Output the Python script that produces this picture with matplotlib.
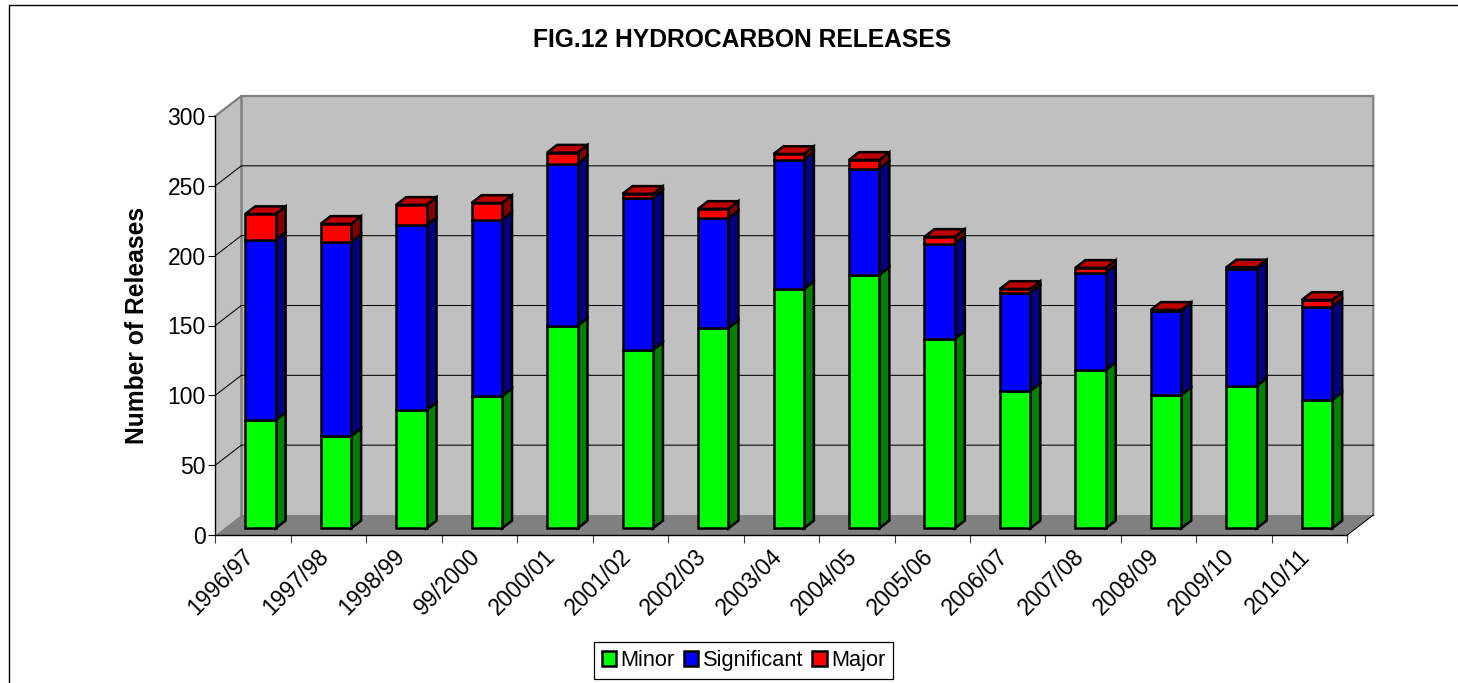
import numpy as np
import matplotlib
matplotlib.use("Agg")
import matplotlib.pyplot as plt
from matplotlib.lines import Line2D
from matplotlib.transforms import ScaledTranslation

plt.rcParams['font.family'] = ['Liberation Sans', 'DejaVu Sans']

years = ['1996/97', '1997/98', '1998/99', '99/2000', '2000/01', '2001/02', '2002/03', '2003/04',
         '2004/05', '2005/06', '2006/07', '2007/08', '2008/09', '2009/10', '2010/11']
minor = [77.6, 66, 84.7, 94.8, 145, 127.7, 143.5, 171.4, 181.5, 135.6, 98.4, 113.4, 95.5, 102, 92]
significant = [128.9, 139, 132.3, 126.2, 116, 108.9, 78.5, 92.6, 75.9, 68.1, 70.1, 69.6, 60.2, 83.6, 66.6]
major = [18.5, 13, 14.6, 12, 8, 2.9, 6.7, 4, 6.4, 5, 2.9, 3.5, 0.7, 1.2, 4.9]

W, H = 1458, 683
fig = plt.figure(figsize=(W/100, H/100), dpi=100)
L, R, T, B = 215.3, 1347.3, 116, 535
ax = fig.add_axes([L/W, 1-B/H, (R-L)/W, (B-T)/H])
ax.set_xlim(0, 15)
ax.set_ylim(0, 300)
px = (R-L)/15
py = (B-T)/300

# depth of the box and of the bars
DX, DY = 26/px, 20/py
off_x, off_y = 7.4/px, 6.7/py
bw, bdx, bdy = 30.4/px, 10/px, 7.7/py

WALL, FLOOR, EDGE = '#C0C0C0', '#808080', '#808080'
ax.fill([0, DX, DX, 0], [0, DY, 300+DY, 300], color=WALL, lw=0, clip_on=False, zorder=1)
ax.fill([DX, 15+DX, 15+DX, DX], [DY, DY, 300+DY, 300+DY], color=WALL, lw=0, clip_on=False, zorder=1)
ax.fill([0, DX, 15+DX, 15], [0, DY, DY, 0], color=FLOOR, lw=0, clip_on=False, zorder=1.1)
ax.plot([0, DX, 15+DX, 15+DX], [300, 300+DY, 300+DY, DY], color=EDGE, lw=1.6, clip_on=False, zorder=1.2,
        solid_joinstyle='miter')
ax.plot([DX, DX], [DY, 300+DY], color=EDGE, lw=1.8, clip_on=False, zorder=1.2)
for v in range(50, 300, 50):
    ax.plot([0, DX, 15+DX], [v, v+DY, v+DY], color='black', lw=0.75, clip_on=False, zorder=1.5)
ax.plot([15, 15+DX], [0, DY], color='black', lw=0.75, clip_on=False, zorder=1.5)

series = [('Minor', minor, '#00FF00', '#008000'),
          ('Significant', significant, '#0000FF', '#000080'),
          ('Major', major, '#FF0000', '#800000')]
centers = np.arange(15) + 0.5 + off_x
bottom = np.zeros(15) + off_y
handles = []
EW = 1.8
for k, (name, vals, col, dark) in enumerate(series):
    vals = np.array(vals, dtype=float)
    x1 = centers + bw/2
    x0 = centers - bw/2
    top = bottom + vals
    for i in range(15):
        ax.fill([x1[i], x1[i]+bdx, x1[i]+bdx, x1[i]],
                [bottom[i], bottom[i]+bdy, top[i]+bdy, top[i]],
                facecolor=dark, edgecolor='black', lw=EW, clip_on=False, zorder=3+k*0.1,
                joinstyle='miter')
        if k == 2:
            ax.fill([x0[i], x1[i], x1[i]+bdx, x0[i]+bdx],
                    [top[i], top[i], top[i]+bdy, top[i]+bdy],
                    facecolor='#C00000', edgecolor='black', lw=EW, clip_on=False, zorder=3+k*0.1,
                    joinstyle='miter')
    bars = ax.bar(centers, vals, width=bw, bottom=bottom, color=col, edgecolor='black', lw=EW,
                  label=name, zorder=3.05+k*0.1, clip_on=False)
    handles.append(bars)
    bottom = top

for s in ('top', 'right'):
    ax.spines[s].set_visible(False)
for s in ('left', 'bottom'):
    ax.spines[s].set_linewidth(1.0)
    ax.spines[s].set_zorder(2.5)

ax.set_yticks(range(0, 301, 50))
ax.tick_params(axis='y', length=5, width=0.8, labelsize=16.5, pad=2)
ax.set_xticks(range(16))
ax.set_xticklabels([])
ax.tick_params(axis='x', which='major', length=5.5, width=0.8, color='#404040')
ax.set_xticks(np.arange(15)+0.5, minor=True)
ax.set_xticklabels(years, minor=True, rotation=45, ha='right', va='top', rotation_mode='anchor', fontsize=16.5)
ax.tick_params(axis='x', which='minor', length=0, pad=7)
shift = ScaledTranslation(-11/100, 0, fig.dpi_scale_trans)
for lab in ax.get_xticklabels(minor=True):
    lab.set_transform(lab.get_transform() + shift)

fig.text(742.5/W, 1-40/H, 'FIG.12 HYDROCARBON RELEASES', ha='center', va='center', fontsize=17.7, fontweight='bold')
fig.text(137.5/W, 1-325.5/H, 'Number of Releases', rotation=90, ha='center', va='center', fontsize=17.7, fontweight='bold')

leg = fig.legend(handles=handles, labels=[s[0] for s in series], loc='center',
                 bbox_to_anchor=(743.5/W, 1-660.5/H), ncol=3, fontsize=15.7, frameon=True, fancybox=False,
                 framealpha=1, edgecolor='black', handlelength=0.68, handleheight=0.68, handletextpad=0.2,
                 columnspacing=0.4, borderpad=0.36, borderaxespad=0)
leg.get_frame().set_linewidth(0.9)

# outer frame
fig.add_artist(Line2D([9/W, 9/W, 1], [0, 1-4.5/H, 1-4.5/H], color='black', lw=1.0, transform=fig.transFigure))

fig.savefig('out.png', dpi=100)
